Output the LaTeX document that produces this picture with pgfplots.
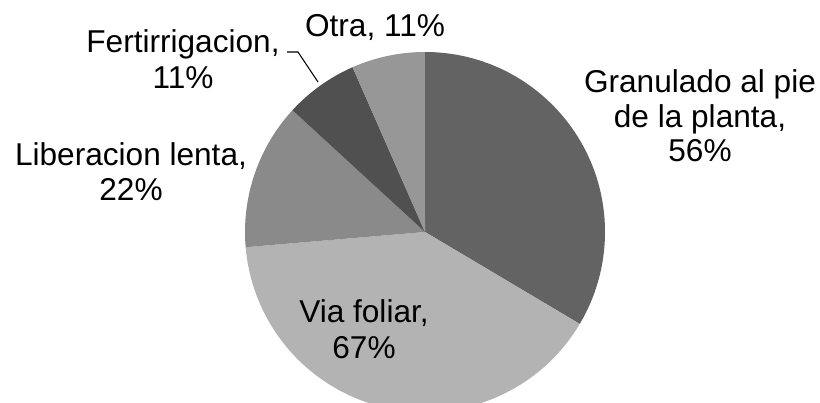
\documentclass[border=0pt]{standalone}
\usepackage{fontspec}
\setmainfont{Liberation Sans}
\usepackage{pgfplots}
\usepackage{pgfplotstable}
\pgfplotsset{compat=1.18}

\definecolor{gA}{HTML}{636363}
\definecolor{gB}{HTML}{B3B3B3}
\definecolor{gC}{HTML}{8A8A8A}
\definecolor{gD}{HTML}{505050}
\definecolor{gE}{HTML}{979797}

\pgfplotstableread{
label value
Granulado 56
Foliar 67
Liberacion 22
Fertirrigacion 11
Otra 11
}\piedata

\tikzset{lab/.style={font=\fontsize{31.6}{35}\selectfont, inner sep=0pt, anchor=base}}

\newcommand\pieslice[3]{%
  \fill[#3] (axis cs:425,170) -- ++(#1:180pt) arc[start angle=#1, end angle=#2, radius=180pt] -- cycle;}

\begin{document}
\begin{tikzpicture}
\useasboundingbox (0,0) rectangle (820pt,402pt);
\clip (0,0) rectangle (820pt,402pt);
\pgfplotstablegetelem{0}{value}\of\piedata \edef\va{\pgfplotsretval}
\pgfplotstablegetelem{1}{value}\of\piedata \edef\vb{\pgfplotsretval}
\pgfplotstablegetelem{2}{value}\of\piedata \edef\vc{\pgfplotsretval}
\pgfplotstablegetelem{3}{value}\of\piedata \edef\vd{\pgfplotsretval}
\pgfplotstablegetelem{4}{value}\of\piedata \edef\ve{\pgfplotsretval}
\pgfmathsetmacro\tot{\va+\vb+\vc+\vd+\ve}
\pgfmathsetmacro\aA{90}
\pgfmathsetmacro\aB{\aA-360*(\va/\tot)}
\pgfmathsetmacro\aC{\aB-360*(\vb/\tot)}
\pgfmathsetmacro\aD{\aC-360*(\vc/\tot)}
\pgfmathsetmacro\aE{\aD-360*(\vd/\tot)}
\pgfmathsetmacro\aF{\aE-360*(\ve/\tot)}
\begin{axis}[
    at={(0,0)}, anchor=south west,
    x=1pt, y=1pt,
    xmin=0, xmax=820, ymin=0, ymax=402,
    hide axis
]
\pieslice{\aA}{\aB}{gA}
\pieslice{\aB}{\aC}{gB}
\pieslice{\aC}{\aD}{gC}
\pieslice{\aD}{\aE}{gD}
\pieslice{\aE}{\aF}{gE}

\draw[line width=1.1pt] (axis cs:287,350) -- (axis cs:298,350) -- (axis cs:318,320);

\node[lab] at (axis cs:700,309) {Granulado al pie};
\node[lab] at (axis cs:700,274) {de la planta,};
\node[lab] at (axis cs:700,240) {56\%};
\node[lab] at (axis cs:364,79) {Via foliar,};
\node[lab] at (axis cs:364,43) {67\%};
\node[lab] at (axis cs:131,236) {Liberacion lenta,};
\node[lab] at (axis cs:131,201) {22\%};
\node[lab] at (axis cs:183,349) {Fertirrigacion,};
\node[lab] at (axis cs:183,313) {11\%};
\node[lab] at (axis cs:375,365) {Otra, 11\%};
\end{axis}
\end{tikzpicture}
\end{document}
